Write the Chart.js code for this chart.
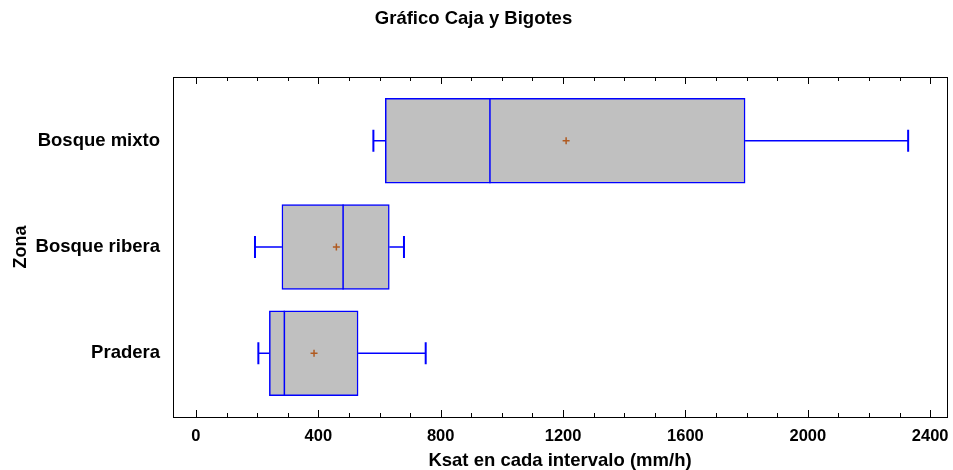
<!DOCTYPE html>
<html>
<head>
<meta charset="utf-8">
<script src="https://cdn.jsdelivr.net/npm/chart.js@4.4.1/dist/chart.umd.min.js"></script>
<style>
  html, body { margin: 0; padding: 0; background: #fff; }
  #wrap { width: 953px; height: 470px; }
</style>
</head>
<body>
<div id="wrap"><canvas id="chart" width="953" height="470"></canvas></div>
<script>
// Box-and-whisker data per zone (mm/h)
const zonas = ['Bosque mixto', 'Bosque ribera', 'Pradera'];
const minimos = [580, 193, 204];
const cuartil1 = [619, 281, 240];
const medianas = [961, 481, 289];
const medias = [1210, 459, 386];
const cuartil3 = [1795, 632, 530];
const maximos = [2328, 680, 751];
const xTicks = [0, 400, 800, 1200, 1600, 2000, 2400];

const FONT = '"Liberation Sans", Arial, sans-serif';
const BLUE = '#0000ff';

// whiskers, medians, frame and inward tick marks, positioned via the chart scales
const boxExtras = {
  id: 'boxExtras',
  afterDatasetDraw(chart, args) {
    if (args.index !== 0) return;
    const ctx = chart.ctx;
    const xs = chart.scales.x, ys = chart.scales.y;
    const bars = chart.getDatasetMeta(0).data;
    ctx.save();
    ctx.strokeStyle = BLUE;
    zonas.forEach((z, i) => {
      const y = ys.getPixelForValue(i);
      const h = bars[i].height;
      const xMin = xs.getPixelForValue(minimos[i]);
      const xQ1 = xs.getPixelForValue(cuartil1[i]);
      const xQ3 = xs.getPixelForValue(cuartil3[i]);
      const xMax = xs.getPixelForValue(maximos[i]);
      const xMed = xs.getPixelForValue(medianas[i]);
      ctx.lineWidth = 1.5;
      ctx.beginPath();
      ctx.moveTo(xMin, y); ctx.lineTo(xQ1, y);
      ctx.moveTo(xQ3, y); ctx.lineTo(xMax, y);
      ctx.stroke();
      ctx.lineWidth = 2;
      ctx.beginPath();
      ctx.moveTo(xMin, y - 11); ctx.lineTo(xMin, y + 11);
      ctx.moveTo(xMax, y - 11); ctx.lineTo(xMax, y + 11);
      ctx.stroke();
      ctx.lineWidth = 1.5;
      ctx.beginPath();
      ctx.moveTo(xMed, y - h / 2); ctx.lineTo(xMed, y + h / 2);
      ctx.stroke();
    });
    ctx.restore();
  },
  afterDraw(chart) {
    const ctx = chart.ctx;
    const a = chart.chartArea;
    const xs = chart.scales.x;
    ctx.save();
    ctx.strokeStyle = '#000';
    ctx.lineWidth = 1;
    ctx.strokeRect(Math.round(a.left) + 0.5, Math.round(a.top) + 0.5,
      Math.round(a.right - a.left), Math.round(a.bottom - a.top));
    ctx.beginPath();
    for (let v = 0; v <= 2400; v += 100) {
      const x = Math.round(xs.getPixelForValue(v)) + 0.5;
      const len = v % 400 === 0 ? 7 : 4;
      ctx.moveTo(x, a.bottom); ctx.lineTo(x, a.bottom - len);
      ctx.moveTo(x, a.top); ctx.lineTo(x, a.top + len);
    }
    ctx.stroke();
    ctx.restore();
  }
};

new Chart(document.getElementById('chart'), {
  type: 'bar',
  data: {
    datasets: [
      {
        type: 'bar',
        order: 1,
        indexAxis: 'y',
        data: zonas.map((z, i) => ({ x: [cuartil1[i], cuartil3[i]], y: i })),
        backgroundColor: '#c0c0c0',
        borderColor: BLUE,
        borderWidth: 1.5,
        borderSkipped: false,
        barThickness: 85
      },
      {
        type: 'scatter',
        order: 0,
        data: zonas.map((z, i) => ({ x: medias[i], y: i })),
        pointStyle: 'cross',
        pointRadius: 3.5,
        pointBorderColor: '#b05a20',
        pointBorderWidth: 1.5,
        pointBackgroundColor: '#b05a20'
      }
    ]
  },
  options: {
    responsive: false,
    animation: false,
    layout: { padding: { right: 6, top: 0, bottom: 0, left: 0 } },
    plugins: {
      legend: { display: false },
      tooltip: { enabled: false },
      title: {
        display: true,
        text: 'Gráfico Caja y Bigotes',
        color: '#000',
        font: { family: FONT, size: 18.5, weight: 'bold' },
        padding: { top: 8, bottom: 46.8 }
      }
    },
    scales: {
      x: {
        type: 'linear',
        offset: false,
        beginAtZero: false,
        min: -75,
        max: 2455,
        afterBuildTicks: s => { s.ticks = xTicks.map(v => ({ value: v })); },
        afterFit: s => { s.height = 53; s.paddingLeft = 0; s.paddingRight = 0; },
        grid: { display: false, drawTicks: false, offset: false },
        border: { display: false },
        ticks: {
          color: '#000',
          font: { family: FONT, size: 16.5, weight: 'bold' },
          padding: 10,
          maxRotation: 0,
          callback: v => String(v)
        },
        title: {
          display: true,
          text: 'Ksat en cada intervalo (mm/h)',
          color: '#000',
          font: { family: FONT, size: 18.5, weight: 'bold', lineHeight: 1 },
          padding: 0
        }
      },
      y: {
        type: 'linear',
        offset: false,
        beginAtZero: false,
        reverse: true,
        min: -0.6,
        max: 2.6,
        afterBuildTicks: s => { s.ticks = zonas.map((z, i) => ({ value: i })); },
        afterFit: s => { s.width = 173; s.paddingTop = 0; s.paddingBottom = 0; },
        grid: { display: false, drawTicks: false, offset: false },
        border: { display: false },
        ticks: {
          color: '#000',
          font: { family: FONT, size: 18.5, weight: 'bold' },
          padding: 13,
          callback: v => zonas[v]
        },
        title: {
          display: true,
          text: 'Zona',
          color: '#000',
          font: { family: FONT, size: 18, weight: 'bold', lineHeight: 1 },
          padding: { top: 12, bottom: 0 }
        }
      }
    }
  },
  plugins: [boxExtras]
});
</script>
</body>
</html>
